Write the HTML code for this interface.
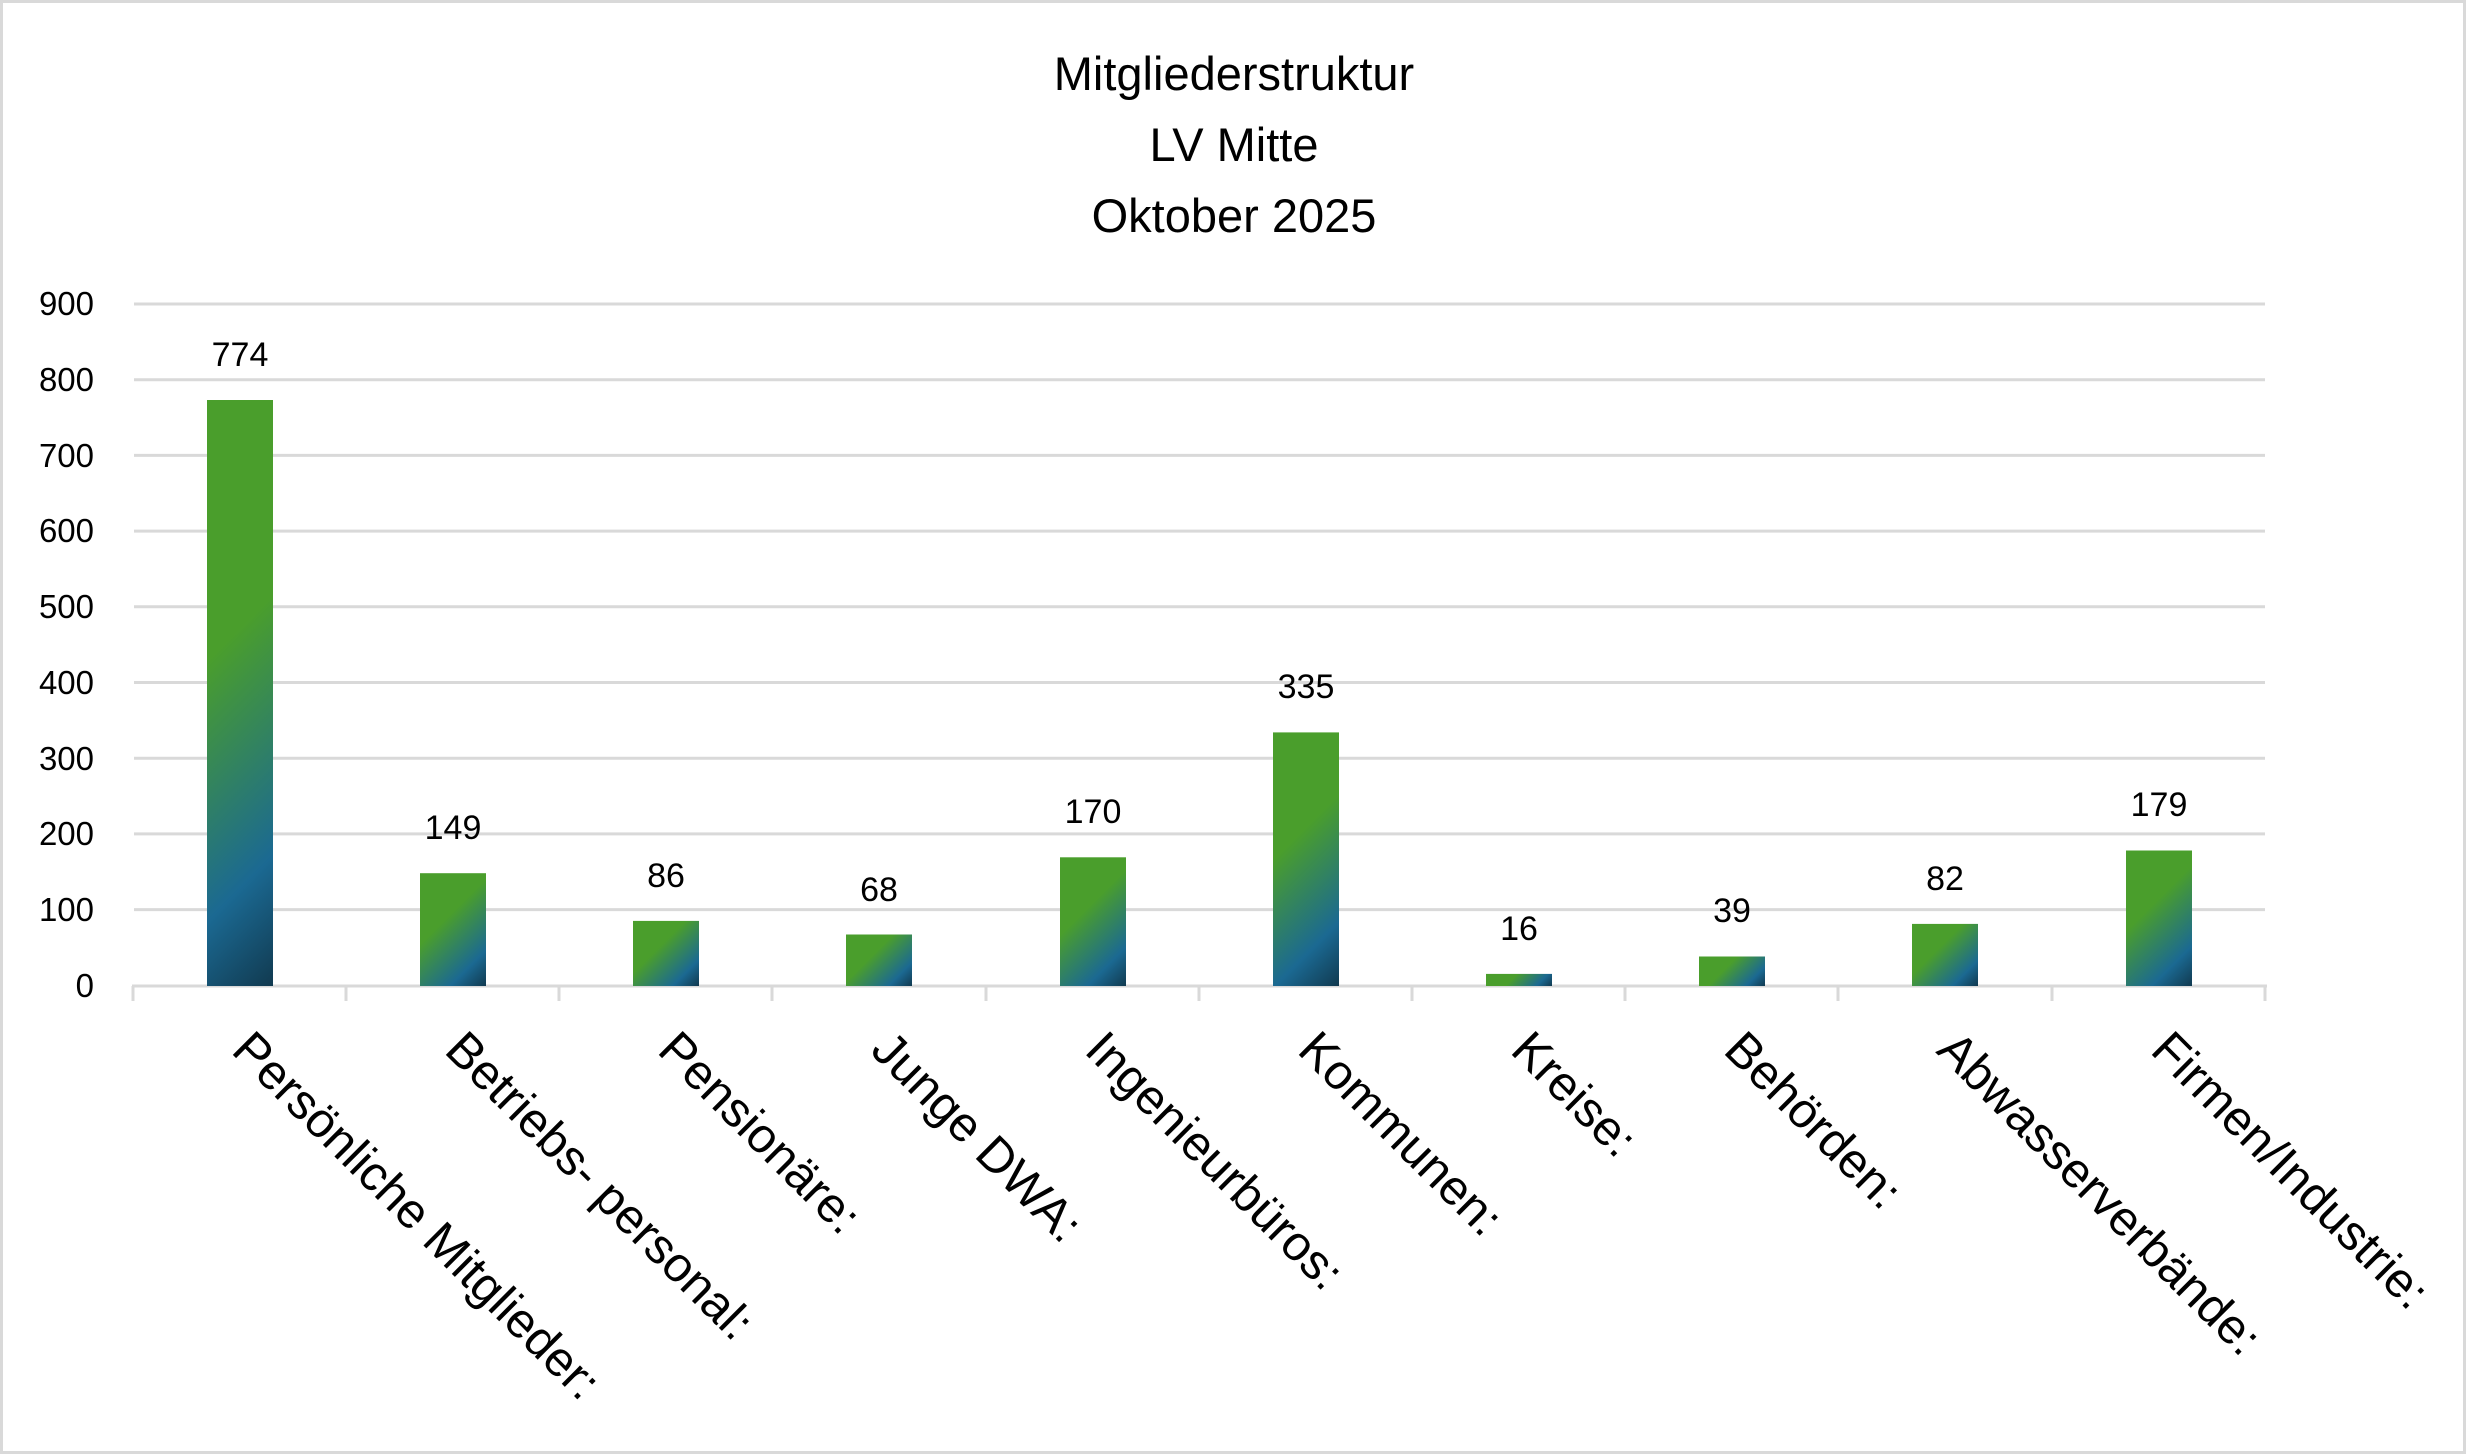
<!DOCTYPE html>
<html><head><meta charset="utf-8"><style>
html,body{margin:0;padding:0;background:#fff}
svg{display:block}
text{font-family:"Liberation Sans",sans-serif;fill:#000}
</style></head><body>
<svg width="2466" height="1454" viewBox="0 0 2466 1454" xmlns="http://www.w3.org/2000/svg">
<defs>
<linearGradient id="g1" gradientUnits="userSpaceOnUse" x1="207" y1="400" x2="533" y2="726"><stop offset="0" stop-color="#4a9e2c"/><stop offset="0.4" stop-color="#4a9e2c"/><stop offset="0.8" stop-color="#1b6992"/><stop offset="1" stop-color="#113a50"/></linearGradient>
<linearGradient id="g2" gradientUnits="userSpaceOnUse" x1="420" y1="873.2" x2="509.4" y2="962.6"><stop offset="0" stop-color="#4a9e2c"/><stop offset="0.4" stop-color="#4a9e2c"/><stop offset="0.8" stop-color="#1b6992"/><stop offset="1" stop-color="#113a50"/></linearGradient>
<linearGradient id="g3" gradientUnits="userSpaceOnUse" x1="633" y1="920.9" x2="698.5" y2="986.4"><stop offset="0" stop-color="#4a9e2c"/><stop offset="0.4" stop-color="#4a9e2c"/><stop offset="0.8" stop-color="#1b6992"/><stop offset="1" stop-color="#113a50"/></linearGradient>
<linearGradient id="g4" gradientUnits="userSpaceOnUse" x1="846" y1="934.5" x2="904.8" y2="993.3"><stop offset="0" stop-color="#4a9e2c"/><stop offset="0.4" stop-color="#4a9e2c"/><stop offset="0.8" stop-color="#1b6992"/><stop offset="1" stop-color="#113a50"/></linearGradient>
<linearGradient id="g5" gradientUnits="userSpaceOnUse" x1="1060" y1="857.3" x2="1157.4" y2="954.7"><stop offset="0" stop-color="#4a9e2c"/><stop offset="0.4" stop-color="#4a9e2c"/><stop offset="0.8" stop-color="#1b6992"/><stop offset="1" stop-color="#113a50"/></linearGradient>
<linearGradient id="g6" gradientUnits="userSpaceOnUse" x1="1273" y1="732.4" x2="1432.8" y2="892.2"><stop offset="0" stop-color="#4a9e2c"/><stop offset="0.4" stop-color="#4a9e2c"/><stop offset="0.8" stop-color="#1b6992"/><stop offset="1" stop-color="#113a50"/></linearGradient>
<linearGradient id="g7" gradientUnits="userSpaceOnUse" x1="1486" y1="973.9" x2="1525" y2="1012.9"><stop offset="0" stop-color="#4a9e2c"/><stop offset="0.4" stop-color="#4a9e2c"/><stop offset="0.8" stop-color="#1b6992"/><stop offset="1" stop-color="#113a50"/></linearGradient>
<linearGradient id="g8" gradientUnits="userSpaceOnUse" x1="1699" y1="956.5" x2="1746.8" y2="1004.3"><stop offset="0" stop-color="#4a9e2c"/><stop offset="0.4" stop-color="#4a9e2c"/><stop offset="0.8" stop-color="#1b6992"/><stop offset="1" stop-color="#113a50"/></linearGradient>
<linearGradient id="g9" gradientUnits="userSpaceOnUse" x1="1912" y1="923.9" x2="1976" y2="988"><stop offset="0" stop-color="#4a9e2c"/><stop offset="0.4" stop-color="#4a9e2c"/><stop offset="0.8" stop-color="#1b6992"/><stop offset="1" stop-color="#113a50"/></linearGradient>
<linearGradient id="g10" gradientUnits="userSpaceOnUse" x1="2126" y1="850.5" x2="2226.8" y2="951.3"><stop offset="0" stop-color="#4a9e2c"/><stop offset="0.4" stop-color="#4a9e2c"/><stop offset="0.8" stop-color="#1b6992"/><stop offset="1" stop-color="#113a50"/></linearGradient>
</defs>
<rect x="1.5" y="1.5" width="2463" height="1451" fill="#fff" stroke="#d9d9d9" stroke-width="3"/>
<g text-anchor="middle" font-size="47">
<text x="1234" y="90">Mitgliederstruktur</text>
<text x="1234" y="161">LV Mitte</text>
<text x="1234" y="232">Oktober 2025</text>
</g>
<g stroke="#d9d9d9" stroke-width="3">
<line x1="134" x2="2265" y1="304" y2="304"/>
<line x1="134" x2="2265" y1="379.7" y2="379.7"/>
<line x1="134" x2="2265" y1="455.4" y2="455.4"/>
<line x1="134" x2="2265" y1="531.1" y2="531.1"/>
<line x1="134" x2="2265" y1="606.8" y2="606.8"/>
<line x1="134" x2="2265" y1="682.5" y2="682.5"/>
<line x1="134" x2="2265" y1="758.2" y2="758.2"/>
<line x1="134" x2="2265" y1="833.9" y2="833.9"/>
<line x1="134" x2="2265" y1="909.6" y2="909.6"/>
<line x1="132" x2="2267" y1="986" y2="986"/>
<line x1="133" x2="133" y1="986" y2="1001"/><line x1="346" x2="346" y1="986" y2="1001"/><line x1="559" x2="559" y1="986" y2="1001"/><line x1="772" x2="772" y1="986" y2="1001"/><line x1="986" x2="986" y1="986" y2="1001"/><line x1="1199" x2="1199" y1="986" y2="1001"/><line x1="1412" x2="1412" y1="986" y2="1001"/><line x1="1625" x2="1625" y1="986" y2="1001"/><line x1="1838" x2="1838" y1="986" y2="1001"/><line x1="2052" x2="2052" y1="986" y2="1001"/><line x1="2265" x2="2265" y1="986" y2="1001"/>
</g>
<g text-anchor="end" font-size="33">
<text x="94" y="315">900</text><text x="94" y="391">800</text><text x="94" y="467">700</text><text x="94" y="542">600</text><text x="94" y="618">500</text><text x="94" y="694">400</text><text x="94" y="770">300</text><text x="94" y="845">200</text><text x="94" y="921">100</text><text x="94" y="997">0</text>
</g>
<rect x="207" y="400" width="66" height="586" fill="url(#g1)"/>
<rect x="420" y="873.2" width="66" height="112.8" fill="url(#g2)"/>
<rect x="633" y="920.9" width="66" height="65.1" fill="url(#g3)"/>
<rect x="846" y="934.5" width="66" height="51.5" fill="url(#g4)"/>
<rect x="1060" y="857.3" width="66" height="128.7" fill="url(#g5)"/>
<rect x="1273" y="732.4" width="66" height="253.6" fill="url(#g6)"/>
<rect x="1486" y="973.9" width="66" height="12.1" fill="url(#g7)"/>
<rect x="1699" y="956.5" width="66" height="29.5" fill="url(#g8)"/>
<rect x="1912" y="923.9" width="66" height="62.1" fill="url(#g9)"/>
<rect x="2126" y="850.5" width="66" height="135.5" fill="url(#g10)"/>
<g text-anchor="middle" font-size="34">
<text x="240" y="366">774</text>
<text x="453" y="839">149</text>
<text x="666" y="887">86</text>
<text x="879" y="901">68</text>
<text x="1093" y="823">170</text>
<text x="1306" y="698">335</text>
<text x="1519" y="940">16</text>
<text x="1732" y="922">39</text>
<text x="1945" y="890">82</text>
<text x="2159" y="816">179</text>
</g>
<g font-size="49">
<text transform="translate(230,1052) rotate(45)">Persönliche Mitglieder:</text>
<text transform="translate(443,1052) rotate(45)">Betriebs- personal:</text>
<text transform="translate(656,1052) rotate(45)">Pensionäre:</text>
<text transform="translate(869,1052) rotate(45)">Junge DWA:</text>
<text transform="translate(1083,1052) rotate(45)">Ingenieurbüros:</text>
<text transform="translate(1296,1052) rotate(45)">Kommunen:</text>
<text transform="translate(1509,1052) rotate(45)">Kreise:</text>
<text transform="translate(1722,1052) rotate(45)">Behörden:</text>
<text transform="translate(1935,1052) rotate(45)">Abwasserverbände:</text>
<text transform="translate(2149,1052) rotate(45)">Firmen/Industrie:</text>
</g>
</svg>
</body></html>
